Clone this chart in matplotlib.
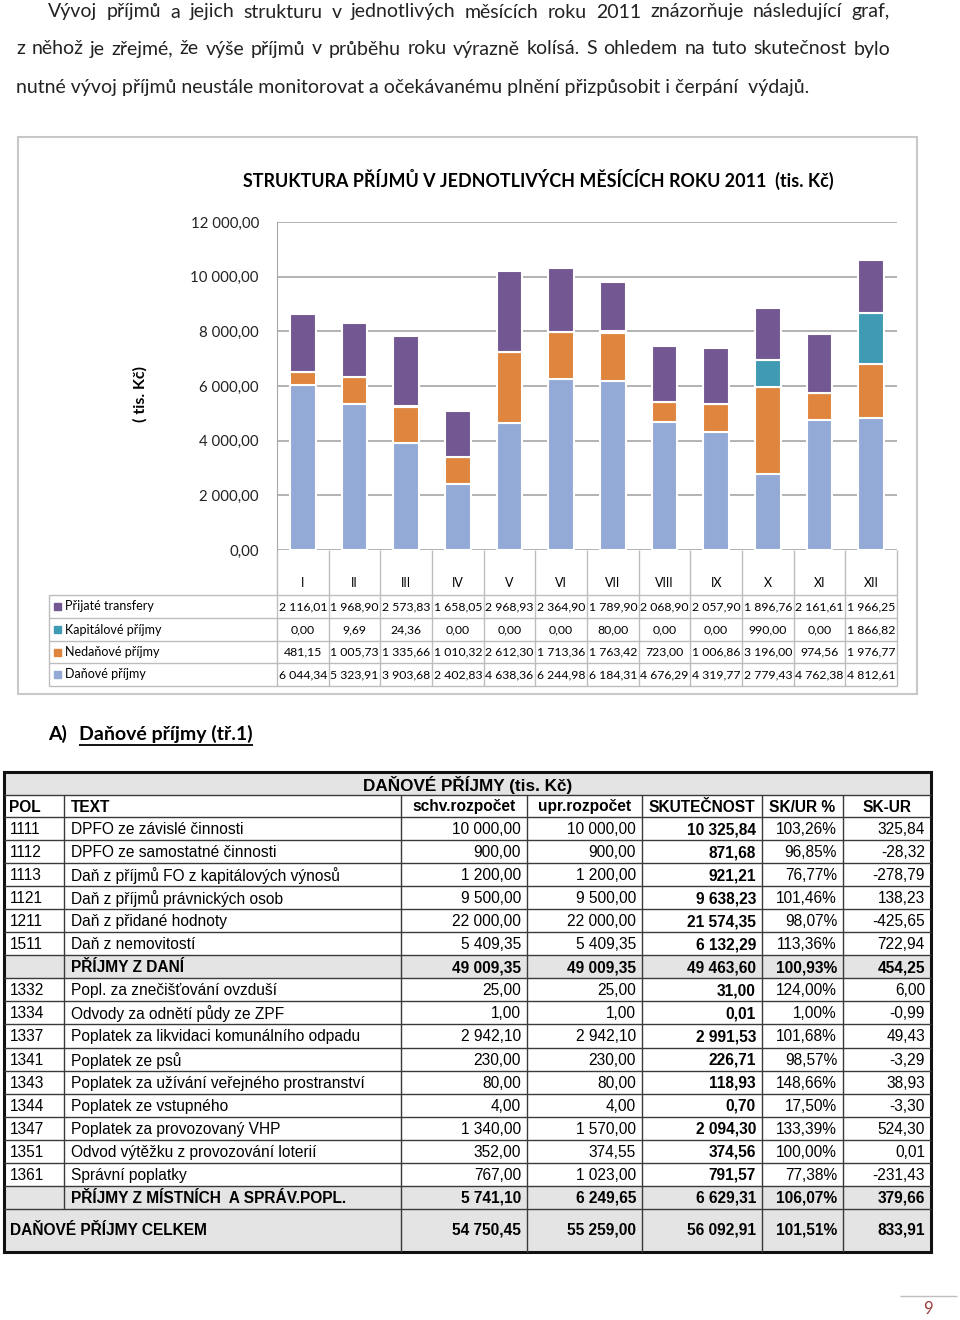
import numpy as np
import matplotlib
matplotlib.use("Agg")
import matplotlib.pyplot as plt
from matplotlib.patches import Rectangle

plt.rcParams["font.family"] = ["Lato", "DejaVu Sans"]
ARIAL = ["Liberation Sans", "DejaVu Sans"]

# ---- chart data (tis. Kč)
months = ["I", "II", "III", "IV", "V", "VI", "VII", "VIII", "IX", "X", "XI", "XII"]
transfery = [2116.01, 1968.90, 2573.83, 1658.05, 2968.93, 2364.90,
             1789.90, 2068.90, 2057.90, 1896.76, 2161.61, 1966.25]
kapitalove = [0.00, 9.69, 24.36, 0.00, 0.00, 0.00,
              80.00, 0.00, 0.00, 990.00, 0.00, 1866.82]
nedanove = [481.15, 1005.73, 1335.66, 1010.32, 2612.30, 1713.36,
            1763.42, 723.00, 1006.86, 3196.00, 974.56, 1976.77]
danove = [6044.34, 5323.91, 3903.68, 2402.83, 4638.36, 6244.98,
          6184.31, 4676.29, 4319.77, 2779.43, 4762.38, 4812.61]
series_names = ["Daňové příjmy", "Nedaňové příjmy", "Kapitálové příjmy", "Přijaté transfery"]
series_colors = ["#93AAD6", "#E0853D", "#3F9AB3", "#735793"]

# ---- table data (tis. Kč)
pol = ["1111", "1112", "1113", "1121", "1211", "1511", "",
       "1332", "1334", "1337", "1341", "1343", "1344", "1347", "1351", "1361", ""]
popis = ["DPFO ze závislé činnosti", "DPFO ze samostatné činnosti",
         "Daň z příjmů FO z kapitálových výnosů", "Daň z příjmů právnických osob",
         "Daň z přidané hodnoty", "Daň z nemovitostí", "PŘÍJMY Z DANÍ",
         "Popl. za znečišťování ovzduší", "Odvody za odnětí půdy ze ZPF",
         "Poplatek za likvidaci komunálního odpadu", "Poplatek ze psů",
         "Poplatek za užívání veřejného prostranství", "Poplatek ze vstupného",
         "Poplatek za provozovaný VHP", "Odvod výtěžku z provozování loterií",
         "Správní poplatky", "PŘÍJMY Z MÍSTNÍCH  A SPRÁV.POPL."]
schv = [10000.00, 900.00, 1200.00, 9500.00, 22000.00, 5409.35, 49009.35,
        25.00, 1.00, 2942.10, 230.00, 80.00, 4.00, 1340.00, 352.00, 767.00, 5741.10]
upr = [10000.00, 900.00, 1200.00, 9500.00, 22000.00, 5409.35, 49009.35,
       25.00, 1.00, 2942.10, 230.00, 80.00, 4.00, 1570.00, 374.55, 1023.00, 6249.65]
skut = [10325.84, 871.68, 921.21, 9638.23, 21574.35, 6132.29, 49463.60,
        31.00, 0.01, 2991.53, 226.71, 118.93, 0.70, 2094.30, 374.56, 791.57, 6629.31]
pct = [103.26, 96.85, 76.77, 101.46, 98.07, 113.36, 100.93,
       124.00, 1.00, 101.68, 98.57, 148.66, 17.50, 133.39, 100.00, 77.38, 106.07]
rozdil = [325.84, -28.32, -278.79, 138.23, -425.65, 722.94, 454.25,
          6.00, -0.99, 49.43, -3.29, 38.93, -3.30, 524.30, 0.01, -231.43, 379.66]
souhrn_rows = [6, 16]
celkem = [54750.45, 55259.00, 56092.91, 101.51, 833.91]
headers = ["POL", "TEXT", "schv.rozpočet", "upr.rozpočet", "SKUTEČNOST", "SK/UR %", "SK-UR"]

paragraph = [
    "Vývoj příjmů   a jejich strukturu v jednotlivých měsících roku 2011 znázorňuje následující graf,",
    "z něhož je zřejmé, že výše příjmů v průběhu roku výrazně kolísá. S ohledem na tuto skutečnost bylo",
    "nutné vývoj příjmů neustále monitorovat a očekávanému plnění přizpůsobit i čerpání  výdajů.",
]


def cz(v, percent=False):
    s = f"{v:,.2f}".replace(",", " ").replace(".", ",")
    return s + "%" if percent else s


W, H = 960, 1320
fig = plt.figure(figsize=(W / 100, H / 100), dpi=100)
page = fig.add_axes([0, 0, 1, 1])
page.set_xlim(0, W)
page.set_ylim(H, 0)
page.axis("off")
renderer = fig.canvas.get_renderer()


def justify(line, x0, x1, y, size):
    words = line.split()
    texts = [page.text(0, y, w, size=size, va="center", ha="left", color="#222222")
             for w in words]
    widths = [t.get_window_extent(renderer).width for t in texts]
    gap = (x1 - x0 - sum(widths)) / (len(words) - 1)
    x = x0
    for t, w in zip(texts, widths):
        t.set_x(x)
        x += w + gap


# ---- paragraph
PS = 14
justify(paragraph[0], 48, 890, 12, PS)
justify(paragraph[1], 16, 890, 49, PS)
page.text(16, 87, paragraph[2], size=PS, va="center", ha="left", color="#222222")

# ---- chart frame and title
page.add_patch(Rectangle((18, 137), 899, 557, fill=False, ec="#C8C8C8", lw=1.5))
page.text(538, 179, "STRUKTURA PŘÍJMŮ V JEDNOTLIVÝCH MĚSÍCÍCH ROKU 2011  (tis. Kč)",
          weight="bold", size=12.9, ha="center", va="center")
page.text(140, 394, "( tis. Kč)", rotation=90, weight="bold", size=11.5,
          ha="center", va="center")

left, right, top, bottom = 277, 897, 222, 550
ax = fig.add_axes([left / W, 1 - bottom / H, (right - left) / W, (bottom - top) / H])
ax.patch.set_alpha(0)
x = np.arange(len(months))
base = np.zeros(len(months))
for vals, color in zip([danove, nedanove, kapitalove, transfery], series_colors):
    ax.bar(x, vals, 0.5, bottom=base, color=color, edgecolor="white", linewidth=1.5, zorder=3)
    base += np.array(vals)
ax.set_xlim(-0.5, 11.5)
ax.set_ylim(0, 12000)
yt = list(range(0, 12001, 2000))
ax.set_yticks(yt)
ax.set_yticklabels([cz(v) for v in yt])
ax.set_xticks([])
ax.yaxis.grid(True, color="#A6A6A6", lw=1.2)
ax.set_axisbelow(True)
for s in ["top", "right", "bottom"]:
    ax.spines[s].set_visible(False)
ax.spines["left"].set_color("#A6A6A6")
ax.tick_params(axis="y", length=0, pad=13, labelsize=10.8, labelcolor="#222222")

# ---- data table under the chart
col_w = (right - left) / len(months)
xs = left + col_w * np.arange(len(months) + 1)
line_c = "#BDBDBD"
row_lines = [595, 618, 641, 663, 686]
page.vlines(xs, 550, 686, color=line_c, lw=1)
page.vlines(49, 595, 686, color=line_c, lw=1)
page.hlines(row_lines, 49, right, color=line_c, lw=1)
for i, m in enumerate(months):
    page.text(xs[i] + col_w / 2, 583, m, size=9, ha="center", va="center")
table_rows = list(zip(series_names, series_colors, [danove, nedanove, kapitalove, transfery]))[::-1]
for r, (name, color, vals) in enumerate(table_rows):
    yc = (row_lines[r] + row_lines[r + 1]) / 2
    page.add_patch(Rectangle((54, yc - 3.5), 7, 7, color=color))
    page.text(65, yc, name, size=9, ha="left", va="center")
    for i, v in enumerate(vals):
        page.text(xs[i] + col_w / 2, yc, cz(v), size=8.8, ha="center", va="center")

# ---- heading
page.text(48, 734, "A)", weight="bold", size=14, ha="left", va="center")
hd = page.text(79, 734, "Daňové příjmy (tř.1)", weight="bold", size=14, ha="left", va="center")
hw = hd.get_window_extent(renderer).width
page.hlines(745, 79, 79 + hw, color="black", lw=1.3)

# ---- big table
edges = [3.5, 64, 401, 527, 642, 762, 843, 931]
t_top, title_b, head_b = 772, 795, 817
row_h = 23.05
n = len(pol)
rows_b = [head_b + row_h * (i + 1) for i in range(n)]
tot_b = 1252
gray = "#E4E4E4"
ink = "#3A3A3A"
fs = 11.2

page.add_patch(Rectangle((edges[0], t_top), edges[-1] - edges[0], title_b - t_top, color=gray, lw=0))
for i in souhrn_rows:
    page.add_patch(Rectangle((edges[0], rows_b[i] - row_h), edges[-1] - edges[0], row_h, color=gray, lw=0))
page.add_patch(Rectangle((edges[0], rows_b[-1]), edges[-1] - edges[0], tot_b - rows_b[-1], color=gray, lw=0))

page.hlines([title_b, head_b] + rows_b, edges[0], edges[-1], color=ink, lw=1)
page.vlines(edges[1], title_b, rows_b[-1], color=ink, lw=1)
page.vlines(edges[2:-1], title_b, tot_b, color=ink, lw=1)
page.add_patch(Rectangle((edges[0], t_top), edges[-1] - edges[0], tot_b - t_top,
                         fill=False, ec="#111111", lw=2.2))

page.text((edges[0] + edges[-1]) / 2, (t_top + title_b) / 2 + 1, "DAŇOVÉ PŘÍJMY (tis. Kč)",
          family=ARIAL, weight="bold", size=12.3, ha="center", va="center")
hy = (title_b + head_b) / 2 + 1
page.text(edges[0] + 6, hy, headers[0], family=ARIAL, weight="bold", size=fs, ha="left", va="center")
page.text(edges[1] + 7, hy, headers[1], family=ARIAL, weight="bold", size=fs, ha="left", va="center")
for j in range(2, 7):
    page.text((edges[j] + edges[j + 1]) / 2, hy, headers[j], family=ARIAL, weight="bold",
              size=fs, ha="center", va="center")

for i in range(n):
    yc = rows_b[i] - row_h / 2 + 1
    bold = i in souhrn_rows
    w = "bold" if bold else "normal"
    page.text(edges[0] + 6, yc, pol[i], family=ARIAL, size=fs, ha="left", va="center")
    page.text(edges[1] + 7, yc, popis[i], family=ARIAL, size=fs, weight=w, ha="left", va="center")
    cells = [cz(schv[i]), cz(upr[i]), cz(skut[i]), cz(pct[i], True), cz(rozdil[i])]
    for j, c in enumerate(cells):
        cw = "bold" if (bold or j == 2) else "normal"
        page.text(edges[j + 3] - 6, yc, c, family=ARIAL, size=fs, weight=cw, ha="right", va="center")

yc = (rows_b[-1] + tot_b) / 2
page.text(edges[0] + 6, yc, "DAŇOVÉ PŘÍJMY CELKEM", family=ARIAL, weight="bold", size=fs,
          ha="left", va="center")
for j, v in enumerate(celkem):
    page.text(edges[j + 3] - 6, yc, cz(v, j == 3), family=ARIAL, weight="bold", size=fs,
              ha="right", va="center")

# ---- page number
page.hlines(1296, 900, 957, color="#BFBFBF", lw=1)
page.text(928, 1309, "9", color="#9B3B3B", size=12, ha="center", va="center")

fig.savefig("out.png", dpi=100)
